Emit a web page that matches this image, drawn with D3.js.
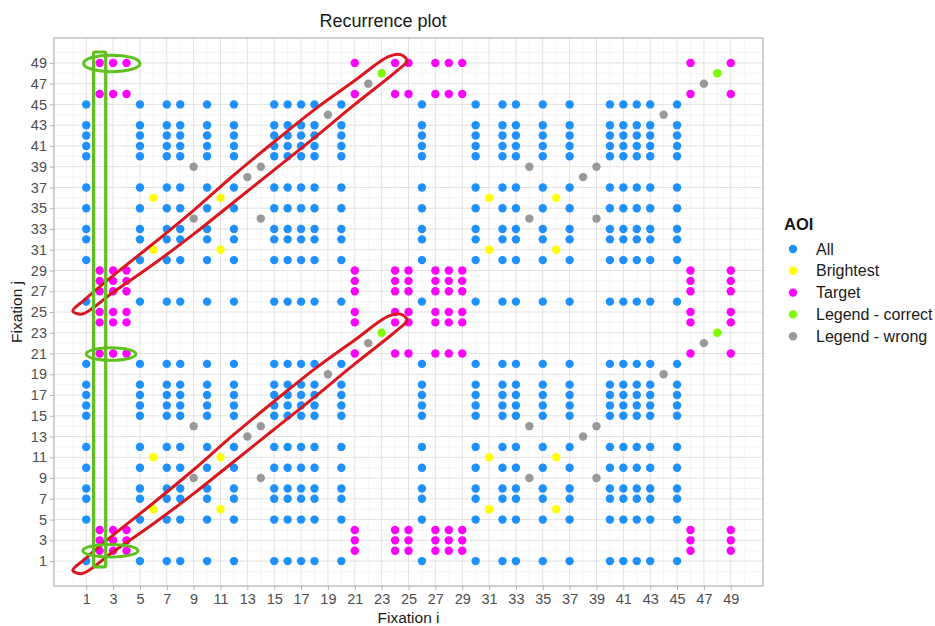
<!DOCTYPE html>
<html>
<head>
<meta charset="utf-8">
<script src="https://cdn.jsdelivr.net/npm/d3@7"></script>
<style>
  body { margin: 0; background: #fff; }
  svg { font-family: "Liberation Sans", Arial, Helvetica, sans-serif; }
</style>
</head>
<body>
<div id="chart"></div>
<script>
// AOI hit by fixation 1..49 (several "wrong" legend entries share one colour)
const fixationAoi = [
  "All", "Target", "Target", "Target", "All", "Brightest", "All", "All", "Wrong A", "All",
  "Brightest", "All", "Wrong B", "Wrong A", "All", "All", "All", "All", "Wrong C", "All",
  "Target", "Wrong D", "Correct", "Target", "Target", "All", "Target", "Target", "Target", "All",
  "Brightest", "All", "All", "Wrong A", "All", "Brightest", "All", "Wrong B", "Wrong A", "All",
  "All", "All", "All", "Wrong C", "All", "Target", "Wrong D", "Correct", "Target"
];

// which legend group each AOI belongs to
const aoiGroup = {
  "All": "All",
  "Brightest": "Brightest",
  "Target": "Target",
  "Correct": "Legend - correct",
  "Wrong A": "Legend - wrong",
  "Wrong B": "Legend - wrong",
  "Wrong C": "Legend - wrong",
  "Wrong D": "Legend - wrong",
};

const legendLabels = ["All", "Brightest", "Target", "Legend - correct", "Legend - wrong"];
const legendColors = ["#1E90FF", "#FFFF00", "#FF00FF", "#7CFC00", "#999999"];

const axisTicks = [1, 3, 5, 7, 9, 11, 13, 15, 17, 19, 21, 23, 25, 27, 29, 31, 33, 35, 37, 39, 41, 43, 45, 47, 49];
const minorTicks = [0, 2, 4, 6, 8, 10, 12, 14, 16, 18, 20, 22, 24, 26, 28, 30, 32, 34, 36, 38, 40, 42, 44, 46, 48, 50];

// hand drawn marks, in data units
const redLoop = [
  [0.0, 0.1], [0.7, -0.2], [3, 1.9], [6, 4.6], [9, 7.5], [12, 10.6], [15, 13.7],
  [18, 16.8], [21, 20.0], [24.2, 23.3], [24.9, 24.2], [24.4, 24.8], [23.5, 24.6],
  [21, 22.3], [18, 19.5], [15, 16.4], [12, 13.2], [9, 9.8], [6, 6.6], [3, 3.5], [0.9, 1.2]
];
const redLoopShift = [0, 25];
const greenBar = { x0: 1.55, x1: 2.45, y0: 0.45, y1: 50.05 };
const greenRings = [
  { cx: 2.9, cy: 48.95, rx: 2.1, ry: 0.8 },
  { cx: 2.85, cy: 20.95, rx: 1.85, ry: 0.6 },
  { cx: 2.8, cy: 2.0, rx: 2.05, ry: 0.6 },
];

const width = 935, height = 626;
const margin = { top: 38, right: 172, bottom: 40, left: 54 };

const svg = d3.select("#chart").append("svg")
  .attr("width", width).attr("height", height);

const x = d3.scaleLinear().domain([-1.4, 51.4]).range([margin.left, width - margin.right]);
const y = d3.scaleLinear().domain([-1.4, 51.4]).range([height - margin.bottom, margin.top]);
const color = d3.scaleOrdinal().domain(legendLabels).range(legendColors);

const x0 = x.range()[0], x1 = x.range()[1];
const y0 = y.range()[1], y1 = y.range()[0];

// panel + grid
svg.append("rect").attr("x", x0).attr("y", y0)
  .attr("width", x1 - x0).attr("height", y1 - y0).attr("fill", "#fff");

const grid = svg.append("g");
grid.selectAll(".vmin").data(minorTicks).join("line")
  .attr("x1", x).attr("x2", x).attr("y1", y0).attr("y2", y1)
  .attr("stroke", "#eeeeee").attr("stroke-width", 0.6);
grid.selectAll(".hmin").data(minorTicks).join("line")
  .attr("y1", y).attr("y2", y).attr("x1", x0).attr("x2", x1)
  .attr("stroke", "#eeeeee").attr("stroke-width", 0.6);
grid.selectAll(".vmaj").data(axisTicks).join("line")
  .attr("x1", x).attr("x2", x).attr("y1", y0).attr("y2", y1)
  .attr("stroke", "#e2e2e2").attr("stroke-width", 1);
grid.selectAll(".hmaj").data(axisTicks).join("line")
  .attr("y1", y).attr("y2", y).attr("x1", x0).attr("x2", x1)
  .attr("stroke", "#e2e2e2").attr("stroke-width", 1);

// recurrence points: (i, j) where both fixations hit the same AOI
const points = [];
fixationAoi.forEach((a, i) => {
  fixationAoi.forEach((b, j) => {
    if (a === b) points.push({ i: i + 1, j: j + 1, group: aoiGroup[a] });
  });
});

svg.append("g").selectAll("circle").data(points).join("circle")
  .attr("cx", (d) => x(d.i))
  .attr("cy", (d) => y(d.j))
  .attr("r", 4.2)
  .attr("fill", (d) => color(d.group));

// annotations
const loopLine = d3.line().curve(d3.curveCatmullRomClosed.alpha(0.5));
redLoopShift.forEach((s) => {
  svg.append("path")
    .attr("d", loopLine(redLoop.map(([u, v]) => [x(u), y(v + s)])))
    .attr("fill", "none").attr("stroke", "#d9171f").attr("stroke-width", 3)
    .attr("stroke-linejoin", "round");
});

svg.append("rect")
  .attr("x", x(greenBar.x0)).attr("y", y(greenBar.y1))
  .attr("width", x(greenBar.x1) - x(greenBar.x0))
  .attr("height", y(greenBar.y0) - y(greenBar.y1))
  .attr("fill", "none").attr("stroke", "#5fc01e").attr("stroke-width", 3.2)
  .attr("rx", 1.5);

svg.append("g").selectAll("ellipse").data(greenRings).join("ellipse")
  .attr("cx", (d) => x(d.cx)).attr("cy", (d) => y(d.cy))
  .attr("rx", (d) => x(d.rx) - x(0)).attr("ry", (d) => y(0) - y(d.ry))
  .attr("fill", "none").attr("stroke", "#5fc01e").attr("stroke-width", 3);

// panel border
svg.append("rect").attr("x", x0).attr("y", y0)
  .attr("width", x1 - x0).attr("height", y1 - y0)
  .attr("fill", "none").attr("stroke", "#b3b3b3").attr("stroke-width", 1.2);

// axes
const xAxis = svg.append("g").attr("transform", `translate(0,${y1})`)
  .call(d3.axisBottom(x).tickValues(axisTicks).tickSize(4).tickPadding(4));
const yAxis = svg.append("g").attr("transform", `translate(${x0},0)`)
  .call(d3.axisLeft(y).tickValues(axisTicks).tickSize(4).tickPadding(3));
[xAxis, yAxis].forEach((g) => {
  g.select(".domain").remove();
  g.selectAll(".tick line").attr("stroke", "#b3b3b3");
  g.selectAll(".tick text").attr("fill", "#4d4d4d")
    .style("font-size", "14.5px").style("font-family", "Liberation Sans, Arial, sans-serif");
});

svg.append("text").attr("x", (x0 + x1) / 2).attr("y", 623)
  .attr("text-anchor", "middle").attr("font-size", 15.5).attr("fill", "#1a1a1a")
  .text("Fixation i");
svg.append("text").attr("transform", `translate(22,${(y0 + y1) / 2}) rotate(-90)`)
  .attr("text-anchor", "middle").attr("font-size", 15.5).attr("fill", "#1a1a1a")
  .text("Fixation j");

svg.append("text").attr("x", 383).attr("y", 27)
  .attr("text-anchor", "middle").attr("font-size", 18).attr("fill", "#1a1a1a")
  .text("Recurrence plot");

// legend
const legend = svg.append("g").attr("transform", "translate(784,0)");
legend.append("text").attr("x", 0).attr("y", 230)
  .attr("font-size", 16.5).attr("font-weight", "bold").attr("fill", "#1a1a1a")
  .text("AOI");
const item = legend.selectAll(".item").data(legendLabels).join("g")
  .attr("transform", (d, k) => `translate(0,${249 + k * 21.8})`);
item.append("circle").attr("cx", 9).attr("cy", 0).attr("r", 4.2)
  .attr("fill", (d) => color(d));
item.append("text").attr("x", 32).attr("y", 0).attr("dy", "0.35em")
  .attr("font-size", 16).attr("fill", "#1a1a1a")
  .text((d) => d);
</script>
</body>
</html>
